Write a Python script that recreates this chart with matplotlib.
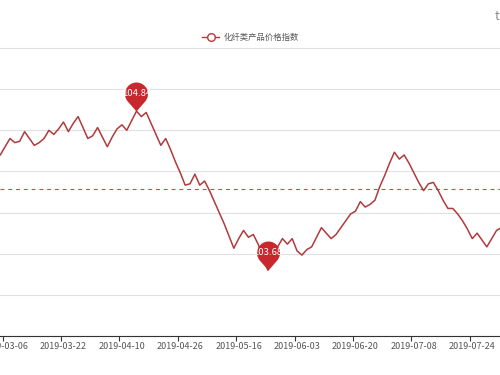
import numpy as np
import matplotlib
matplotlib.use('Agg')
import matplotlib.pyplot as plt
from matplotlib.path import Path
from matplotlib.lines import Line2D
from matplotlib.ticker import FixedLocator

plt.rcParams['font.family'] = ['Noto Sans CJK SC', 'DejaVu Sans']

# data (one value per trading day, first point is the day before 2019-03-06)
series_name = '化纤类产品价格指数'
tick_labels = ['2019-03-06', '2019-03-22', '2019-04-10', '2019-04-26', '2019-05-16',
               '2019-06-03', '2019-06-20', '2019-07-08', '2019-07-24']
label_step = 12
price_index = [
    104.52, 104.58, 104.64, 104.61, 104.62, 104.69, 104.64, 104.59, 104.61, 104.64,
    104.70, 104.67, 104.71, 104.76, 104.69, 104.75, 104.80, 104.72, 104.64, 104.66,
    104.72, 104.65, 104.58, 104.65, 104.71, 104.74, 104.70, 104.77, 104.84, 104.80,
    104.83, 104.75, 104.67, 104.59, 104.64, 104.56, 104.47, 104.39, 104.30, 104.31,
    104.38, 104.30, 104.33, 104.26, 104.18, 104.10, 104.02, 103.93, 103.84, 103.91,
    103.97, 103.92, 103.94, 103.87, 103.77, 103.68, 103.77, 103.85, 103.91, 103.87,
    103.91, 103.82, 103.79, 103.83, 103.85, 103.92, 103.99, 103.95, 103.91, 103.94,
    103.99, 104.04, 104.09, 104.11, 104.18, 104.14, 104.16, 104.19, 104.29, 104.37,
    104.46, 104.54, 104.49, 104.52, 104.46, 104.39, 104.32, 104.26, 104.31, 104.32,
    104.26, 104.19, 104.13, 104.13, 104.09, 104.04, 103.98, 103.91, 103.95, 103.90,
    103.85, 103.91, 103.97, 103.99,
]
avg_value = 104.27
y_min, y_max, y_step = 103.2, 105.3, 0.3

line_color = '#b13a3c'
pin_color = '#c8282d'


def pin_marker(r=11.5, h=17.5):
    # echarts style "pin": round head with a pointed tail, tip at the origin
    a = np.degrees(np.arccos(r / h))
    arc = Path.arc(-90 + a, 270 - a)
    verts = np.vstack([arc.vertices * r + [0, h], [0, 0], [0, 0]])
    codes = np.concatenate([arc.codes, [Path.LINETO, Path.CLOSEPOLY]])
    size = 2 * np.abs(verts).max() * 0.72   # px -> pt
    return Path(verts, codes), size, h


x = np.arange(len(price_index)) - 1
y = np.array(price_index)

fig = plt.figure(figsize=(5, 3.75), dpi=100)
ax = fig.add_axes([0, 0.104, 1, 0.768])

ax.plot(x, y, color=line_color, lw=1.1, zorder=3)
ax.axhline(avg_value, color='#d0484c', lw=0.8, ls=(0, (3.5, 3.5)), zorder=2)

pin, pin_size, pin_h = pin_marker()
for idx in [np.argmax(y), np.argmin(y)]:
    ax.plot([x[idx]], [y[idx]], marker=pin, markersize=pin_size, color=pin_color,
            mec='none', linestyle='none', zorder=5)
    ax.annotate(f'{y[idx]:.2f}', (x[idx], y[idx]), xytext=(0, pin_h * 0.72),
                textcoords='offset points', ha='center', va='center',
                color='white', fontsize=6.8, zorder=6)

# y axis: grid only, labels are outside the visible area
ax.set_ylim(y_min, y_max)
ax.yaxis.set_major_locator(FixedLocator(np.linspace(y_min, y_max, int(round((y_max - y_min) / y_step)) + 1)))
ax.tick_params(axis='y', left=False, labelleft=False)
ax.grid(axis='y', color='#e0e0e0', lw=0.8)
for gl in ax.get_ygridlines():
    gl.set_clip_on(False)

# x axis: category axis, ticks on band edges, labels on band centres
ax.set_xlim(-1.05, 101.7)
label_pos = np.arange(len(tick_labels)) * label_step
ax.set_xticks(label_pos - 0.5)
ax.set_xticks(label_pos, minor=True)
ax.set_xticklabels(tick_labels, minor=True)
ax.tick_params(axis='x', which='major', length=3.5, width=0.8, color='#333333', labelbottom=False)
ax.tick_params(axis='x', which='minor', length=0, pad=4, labelsize=6.5, labelcolor='#555555')

for s in ['top', 'left', 'right']:
    ax.spines[s].set_visible(False)
ax.spines['bottom'].set_color('#333333')
ax.spines['bottom'].set_linewidth(0.8)

handle = Line2D([], [], color=line_color, lw=1, marker='o', ms=5.5,
                mfc='white', mec=line_color, mew=1)
fig.legend([handle], [series_name], loc='center', bbox_to_anchor=(0.502, 0.899),
           frameon=False, fontsize=6, handlelength=2.0, handletextpad=0.6,
           labelcolor='#555555')

fig.text(0.994, 0.955, 't', color='#888888', fontsize=9, ha='center', va='center')

fig.savefig('out.png', dpi=100)
